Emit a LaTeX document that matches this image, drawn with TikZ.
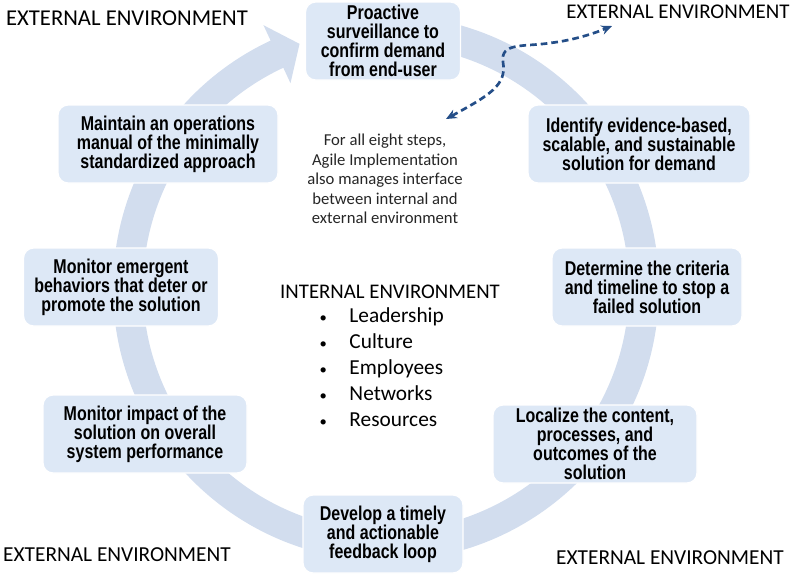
\documentclass[tikz,border=0pt]{standalone}
\usepackage{fontspec}
\setmainfont{Carlito}
\newfontfamily\boxfont{Liberation Sans}[FakeStretch=0.8]
\usetikzlibrary{arrows.meta}

\definecolor{ringblue}{RGB}{210,221,238}
\definecolor{boxblue}{RGB}{221,232,246}
\definecolor{linkblue}{RGB}{36,78,136}

\tikzset{every picture/.style={line width=0.75pt}}
\tikzset{
  stepbox/.style={draw=white, line width=1pt, fill=boxblue, rounded corners=7.5pt, align=center, inner sep=0pt, minimum height=58.5pt, font=\boxfont\bfseries\fontsize{15}{14.25}\selectfont},
  envtext/.style={inner sep=0.75pt, font=\fontsize{16}{19}\selectfont},
}
\newcommand{\factorbullet}{{\fontsize{11}{11}\selectfont\textbullet}}

\begin{document}
\begin{tikzpicture}[x=0.75pt,y=0.75pt,yscale=-1,xscale=1]
\useasboundingbox (0,0) rectangle (800,576);

%Shape: Circular Arrow [id:ring]
\begin{scope}[shift={(386,288)}]
\fill [ringblue] (-85:273) arc[start angle=-85, end angle=245, radius=273] -- (245:290) -- (250.5:259) -- (245:226) -- (245:243) arc[start angle=245, end angle=-85, radius=243] -- cycle ;
\end{scope}

%Shape: Rounded Rect [id:steps]
\node (surveil) at (383,41) [stepbox, minimum width=116.25pt] {Proactive\\surveillance to\\confirm demand\\from end-user};
\node (identify) at (639,144) [stepbox, minimum width=166.5pt] {Identify evidence-based,\\scalable, and sustainable\\solution for demand};
\node (criteria) at (647,287) [stepbox, minimum width=142.5pt] {Determine the criteria\\and timeline to stop a\\failed solution};
\node (localize) at (595,444) [stepbox, minimum width=153pt] {Localize the content,\\processes, and\\outcomes of the\\solution};
\node (feedback) at (383,534) [stepbox, minimum width=120pt] {Develop a timely\\and actionable\\feedback loop};
\node (impact) at (145,434) [stepbox, minimum width=153pt] {Monitor impact of the\\solution on overall\\system performance};
\node (emergent) at (121,287) [stepbox, minimum width=146.25pt] {Monitor emergent\\behaviors that deter or\\promote the solution};
\node (manual) at (168,144) [stepbox, minimum width=165pt] {Maintain an operations\\manual of the minimally\\standardized approach};

% Text Node
\node (extTL) at (127,18) [envtext, font=\fontsize{17}{20}\selectfont] {EXTERNAL ENVIRONMENT};
\node (extTR) at (678,12) [envtext, font=\fontsize{15.7}{19}\selectfont] {EXTERNAL ENVIRONMENT};
\node (extBL) at (117,555) [envtext] {EXTERNAL ENVIRONMENT};
\node (extBR) at (670,558) [envtext] {EXTERNAL ENVIRONMENT};

% Text Node
\node (note) at (385,179) [inner sep=0.75pt, align=center, text=black!85, font=\fontsize{12.5}{14.6}\selectfont] {For all eight steps,\\Agile Implementation\\also manages interface\\between internal and\\external environment};

% Text Node
\node (internal) at (390,292) [envtext, font=\fontsize{15.6}{19}\selectfont] {INTERNAL ENVIRONMENT};
\node (factors) at (319,369) [anchor=west, inner sep=0pt, font=\fontsize{16}{19.5}\selectfont] {\begin{tabular}{@{}l@{\hspace{17pt}}l@{}}
\factorbullet & Leadership\\
\factorbullet & Culture\\
\factorbullet & Employees\\
\factorbullet & Networks\\
\factorbullet & Resources
\end{tabular}};

%Curve Lines [id:interface]
\coordinate (extpt) at (612,26);
\coordinate (notept) at (446,119);
\draw [linkblue, line width=2pt, dash pattern={on 5pt off 3pt}, {Stealth[length=8pt,width=7pt]}-{Stealth[length=8pt,width=7pt]}] (notept) .. controls (490,95) and (507,85) .. (503,62) .. controls (500,42) and (525,47) .. (550,43) .. controls (575,40) and (595,33) .. (extpt) ;

\end{tikzpicture}
\end{document}
